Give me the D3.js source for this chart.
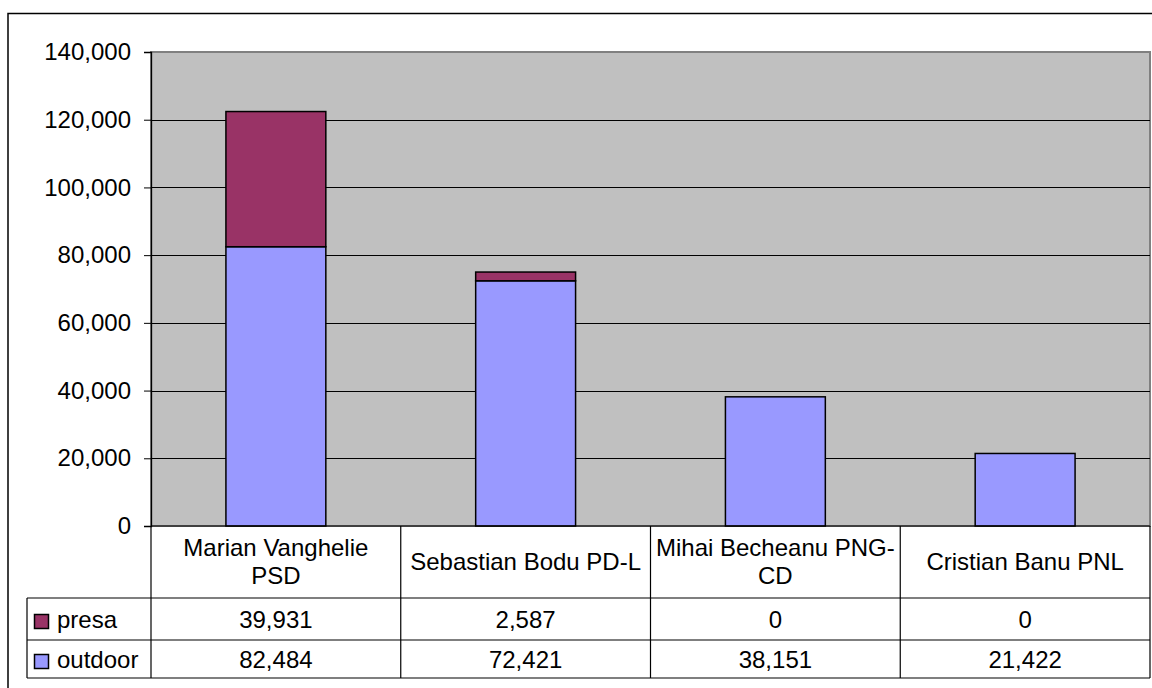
<!DOCTYPE html>
<html>
<head>
<meta charset="utf-8">
<script src="https://cdn.jsdelivr.net/npm/d3@7"></script>
<style>
	body { margin: 0; background: #fff; }
	svg { display: block; font-family: "Liberation Sans", Arial, sans-serif; }
</style>
</head>
<body>
<svg id="chart" width="1152" height="688"></svg>
<script>
// chart data
var categories = ["Marian Vanghelie PSD", "Sebastian Bodu PD-L", "Mihai Becheanu PNG-CD", "Cristian Banu PNL"];
var seriesNames = ["presa", "outdoor"];
var presa = [39931, 2587, 0, 0];
var outdoor = [82484, 72421, 38151, 21422];
var yTicks = [0, 20000, 40000, 60000, 80000, 100000, 120000, 140000];
var seriesColors = { presa: "#993366", outdoor: "#9999FF" };

var fontSize = 24;
var plot = { left: 151, top: 52, right: 1150, bottom: 526 };
var catRowBottom = 598;
var rowBottoms = [640, 678];
var legendLeft = 27;

var svg = d3.select("#chart");

// outer frame
svg.append("rect")
	.attr("x", 8)
	.attr("y", 13.5)
	.attr("width", 1160)
	.attr("height", 700)
	.style("fill", "#fff")
	.style("stroke", "#000")
	.style("stroke-width", 1.5);

var x = d3.scaleBand()
	.domain(categories)
	.range([plot.left, plot.right])
	.paddingInner(0.6)
	.paddingOuter(0.3);

var band = d3.scaleBand()
	.domain(categories)
	.range([plot.left, plot.right]);

var y = d3.scaleLinear()
	.domain([0, 140000])
	.range([plot.bottom, plot.top]);

// plot area
svg.append("rect")
	.attr("x", plot.left)
	.attr("y", plot.top)
	.attr("width", plot.right - plot.left)
	.attr("height", plot.bottom - plot.top)
	.style("fill", "#C0C0C0")
	.style("stroke", "#808080")
	.style("stroke-width", 2);

// gridlines
svg.append("g")
	.selectAll("line")
	.data(yTicks.filter(function (d) { return d > 0 && d < 140000; }))
	.enter().append("line")
	.attr("x1", plot.left)
	.attr("x2", plot.right)
	.attr("y1", function (d) { return Math.round(y(d)) + 0.5; })
	.attr("y2", function (d) { return Math.round(y(d)) + 0.5; })
	.style("stroke", "#000")
	.style("stroke-width", 1);

// stacked bars
var rows = categories.map(function (c, i) {
	return { cat: c, presa: presa[i], outdoor: outdoor[i] };
});
var stack = d3.stack().keys(["outdoor", "presa"])(rows);

svg.append("g")
	.selectAll("g")
	.data(stack)
	.enter().append("g")
	.style("fill", function (s) { return seriesColors[s.key]; })
	.selectAll("rect")
	.data(function (s) { return s.filter(function (d) { return d[1] > d[0]; }); })
	.enter().append("rect")
	.attr("x", function (d) { return x(d.data.cat); })
	.attr("y", function (d) { return y(d[1]); })
	.attr("width", x.bandwidth())
	.attr("height", function (d) { return y(d[0]) - y(d[1]); })
	.style("stroke", "#000")
	.style("stroke-width", 1.5);

// y axis
var yAxis = d3.axisLeft(y)
	.tickValues(yTicks)
	.tickSize(7)
	.tickPadding(13)
	.tickFormat(d3.format(","));

var axisG = svg.append("g")
	.attr("transform", "translate(" + plot.left + ",0)")
	.call(yAxis);
axisG.select(".domain").style("stroke", "#000").style("stroke-width", 1.3);
axisG.selectAll(".tick line").style("stroke", "#000");
axisG.selectAll("text")
	.style("font-family", "Liberation Sans, Arial, sans-serif")
	.style("font-size", fontSize + "px")
	.style("fill", "#000");

// data table
var table = svg.append("g");
var lineStyle = function (sel) {
	sel.style("stroke", "#000").style("stroke-width", 1.2);
};

table.append("line").attr("x1", plot.left).attr("x2", plot.right)
	.attr("y1", plot.bottom).attr("y2", plot.bottom).call(lineStyle);
rowBottoms.concat([catRowBottom]).forEach(function (yy) {
	table.append("line").attr("x1", legendLeft).attr("x2", plot.right)
		.attr("y1", yy).attr("y2", yy).call(lineStyle);
});
table.append("line").attr("x1", legendLeft).attr("x2", legendLeft)
	.attr("y1", catRowBottom).attr("y2", rowBottoms[1]).call(lineStyle);
categories.concat([null]).forEach(function (c) {
	var xx = c === null ? plot.right : band(c);
	table.append("line").attr("x1", xx).attr("x2", xx)
		.attr("y1", plot.bottom).attr("y2", rowBottoms[1]).call(lineStyle);
});

// category labels, wrapped to the column
var maxWidth = 240;
var lineGap = 28;
categories.forEach(function (c) {
	var cx = band(c) + band.bandwidth() / 2;
	var cy = (plot.bottom + catRowBottom) / 2;
	var tokens = c.match(/[^\s-]+-?/g);
	var txt = table.append("text")
		.attr("text-anchor", "middle")
		.style("font-size", fontSize + "px");
	var lines = [];
	var cur = "";
	tokens.forEach(function (t) {
		var sep = (cur === "" || /-$/.test(cur)) ? "" : " ";
		var test = cur + sep + t;
		txt.text(test);
		if (cur !== "" && txt.node().getComputedTextLength() > maxWidth) {
			lines.push(cur);
			cur = t;
		} else {
			cur = test;
		}
	});
	lines.push(cur);
	txt.text(null);
	var base = cy + fontSize * 0.35 - (lines.length - 1) * lineGap / 2;
	lines.forEach(function (l, i) {
		txt.append("tspan")
			.attr("x", cx)
			.attr("y", base + i * lineGap)
			.text(l);
	});
});

// series rows
var seriesValues = { presa: presa, outdoor: outdoor };
seriesNames.forEach(function (name, r) {
	var top = r === 0 ? catRowBottom : rowBottoms[0];
	var bottom = rowBottoms[r];
	var cy = (top + bottom) / 2;

	table.append("rect")
		.attr("x", 34.5)
		.attr("y", cy - 4.5)
		.attr("width", 14)
		.attr("height", 14)
		.style("fill", seriesColors[name])
		.style("stroke", "#000")
		.style("stroke-width", 1.5);

	table.append("text")
		.attr("x", 57)
		.attr("y", cy + fontSize * 0.35 + 1)
		.style("font-size", fontSize + "px")
		.text(name);

	categories.forEach(function (c, i) {
		table.append("text")
			.attr("x", band(c) + band.bandwidth() / 2)
			.attr("y", cy + fontSize * 0.35 + 1)
			.attr("text-anchor", "middle")
			.style("font-size", fontSize + "px")
			.text(d3.format(",")(seriesValues[name][i]));
	});
});
</script>
</body>
</html>
